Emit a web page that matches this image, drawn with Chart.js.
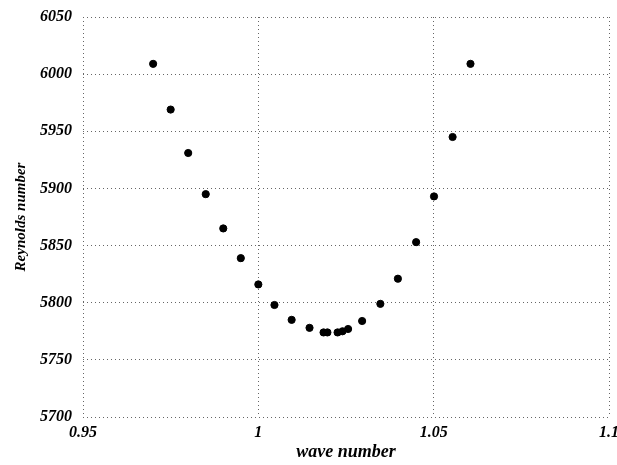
<!DOCTYPE html>
<html>
<head>
<meta charset="utf-8">
<script src="https://cdn.jsdelivr.net/npm/chart.js@4"></script>
<style>
  html, body { margin: 0; padding: 0; background: #fff; }
  canvas { display: block; }
</style>
</head>
<body>
<canvas id="chart" width="617" height="465"></canvas>
<script>
// wave number vs Reynolds number
const waveNumbers = [
    0.970, 0.975, 0.980, 0.985, 0.990, 0.995, 1.000, 1.0046, 1.0095, 1.0146,
    1.0186, 1.0197, 1.0226, 1.0240, 1.0256, 1.0296, 1.0348, 1.0398, 1.0450,
    1.0501, 1.0554, 1.0605
];
const reynolds = [
    6009, 5969, 5931, 5895, 5865, 5839, 5816, 5798, 5785, 5778,
    5774, 5774, 5774, 5775, 5777, 5784, 5799, 5821, 5853,
    5893, 5945, 6009
];
const xTicks = [0.95, 1, 1.05, 1.1];
const xTickLabels = ['0.95', '1', '1.05', '1.1'];
const yTicks = [5700, 5750, 5800, 5850, 5900, 5950, 6000, 6050];

const points = waveNumbers.map((x, i) => ({ x: x, y: reynolds[i] }));

const tickFont = { family: 'Liberation Serif', size: 16, style: 'italic', weight: 'bold' };
// v4: border.dash sets the grid line dashes; the frame itself comes from the edge grid lines
const gridStyle = { color: '#666', lineWidth: 1, drawTicks: false };
const borderStyle = { display: false, dash: [1, 3] };

new Chart(document.getElementById('chart').getContext('2d'), {
    type: 'scatter',
    data: {
        datasets: [{
            data: points,
            backgroundColor: '#000',
            borderColor: '#000',
            pointRadius: 3.6,
            pointHoverRadius: 3.6
        }]
    },
    options: {
        responsive: false,
        animation: false,
        layout: { padding: { top: 17, right: 8, left: 0, bottom: 0 } },
        plugins: {
            legend: { display: false },
            tooltip: { enabled: false }
        },
        scales: {
            x: {
                type: 'linear',
                min: xTicks[0],
                max: xTicks[xTicks.length - 1],
                afterBuildTicks: s => { s.ticks = xTicks.map(v => ({ value: v })); },
                afterFit: s => { s.height = 48; s.paddingLeft = 0; s.paddingRight = 0; },
                ticks: {
                    color: '#000',
                    font: tickFont,
                    padding: 6,
                    maxRotation: 0,
                    callback: (v) => xTickLabels[xTicks.indexOf(v)]
                },
                grid: gridStyle,
                border: borderStyle,
                title: {
                    display: true,
                    text: 'wave number',
                    color: '#000',
                    font: { family: 'Liberation Serif', size: 18, style: 'italic', weight: 'bold' },
                    padding: { top: 0, bottom: 2 }
                }
            },
            y: {
                type: 'linear',
                min: yTicks[0],
                max: yTicks[yTicks.length - 1],
                afterBuildTicks: s => { s.ticks = yTicks.map(v => ({ value: v })); },
                afterFit: s => { s.width = 83; s.paddingTop = 0; s.paddingBottom = 0; },
                ticks: {
                    color: '#000',
                    font: tickFont,
                    padding: 11,
                    callback: v => String(v)
                },
                grid: gridStyle,
                border: borderStyle,
                title: {
                    display: true,
                    text: 'Reynolds number',
                    color: '#000',
                    font: { family: 'Liberation Serif', size: 15, style: 'italic', weight: 'bold' },
                    padding: { top: 12, bottom: 0 }
                }
            }
        }
    }
});
</script>
</body>
</html>
